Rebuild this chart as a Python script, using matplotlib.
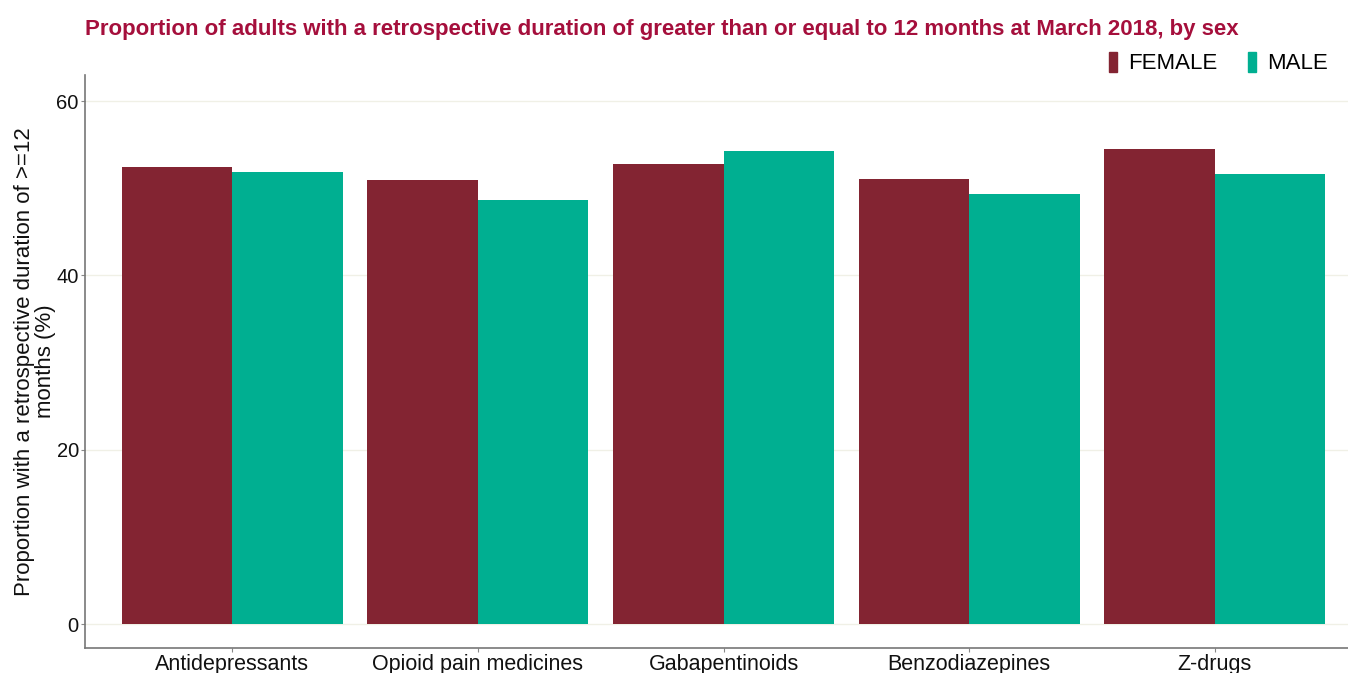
import numpy as np
import matplotlib
matplotlib.use("Agg")
import matplotlib.pyplot as plt
from matplotlib.patches import Patch

plt.rcParams["font.family"] = ["Liberation Sans", "DejaVu Sans"]

categories = ["Antidepressants", "Opioid pain medicines", "Gabapentinoids",
              "Benzodiazepines", "Z-drugs"]
female = [52.4, 50.9, 52.8, 51.1, 54.5]
male = [51.9, 48.7, 54.3, 49.4, 51.6]
yticks = [0, 20, 40, 60]

FEMALE_C = "#832432"
MALE_C = "#00AF91"

fig = plt.figure(figsize=(13.48, 6.73), dpi=100)
ax = fig.add_axes([85 / 1348, 25 / 673, 1277 / 1348, 573 / 673])

x = np.arange(len(categories))
w = 0.45
ax.bar(x - w / 2, female, width=w, color=FEMALE_C, zorder=2)
ax.bar(x + w / 2, male, width=w, color=MALE_C, zorder=2)

ax.set_xlim(-0.6, len(categories) - 0.4)
ax.set_ylim(-2.75, 63)
ax.set_yticks(yticks)
ax.set_xticks(x)
ax.set_xticklabels(categories, fontsize=15.5, color="#111111")
ax.tick_params(axis="y", labelsize=14.5, colors="#111111", length=3,
               color="#888888", pad=1.5)
ax.tick_params(axis="x", length=3, color="#888888", pad=1)
ax.grid(axis="y", color="#F0F0E6", linewidth=1, zorder=0)

for s in ["top", "right"]:
    ax.spines[s].set_visible(False)
for s in ["left", "bottom"]:
    ax.spines[s].set_color("#777777")
    ax.spines[s].set_linewidth(1.2)

ax.set_ylabel("Proportion with a retrospective duration of >=12\nmonths (%)",
              fontsize=16, color="#111111", linespacing=1.0)
ax.yaxis.set_label_coords(-0.023, 0.5)

fig.text(85 / 1348, 1 - 29 / 673,
         "Proportion of adults with a retrospective duration of greater than "
         "or equal to 12 months at March 2018, by sex",
         fontsize=16, fontweight="bold", color="#A50F3C", va="center")

handles = [Patch(color=FEMALE_C, label="FEMALE"),
           Patch(color=MALE_C, label="MALE")]
fig.legend(handles=handles, loc="center right", ncol=2, frameon=False,
           bbox_to_anchor=(1348 / 1348, 1 - 63 / 673), fontsize=16,
           handlelength=0.35, handleheight=1.0, handletextpad=0.5,
           columnspacing=1.4)

fig.savefig("out.png", dpi=100)
